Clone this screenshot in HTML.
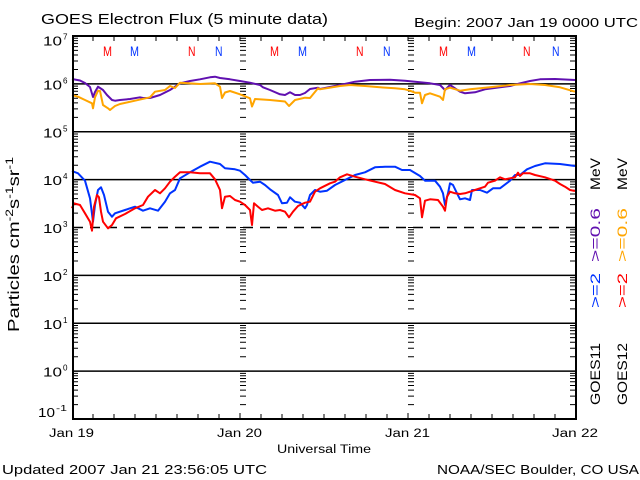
<!DOCTYPE html>
<html><head><meta charset="utf-8"><style>
html,body{margin:0;padding:0;background:#fff;}
svg{display:block;}
text{font-family:"Liberation Sans",sans-serif;fill:#000;}
</style></head><body>
<svg width="640" height="480" viewBox="0 0 640 480" xmlns="http://www.w3.org/2000/svg">
<defs>
<path id="dec" d="M0 0H6M0 2.19H6M0 4.64H6M0 7.42H6M0 10.62H6M0 14.41H6M0 19.05H6M0 25.03H6M0 33.46H6" stroke="#000" stroke-width="1" fill="none"/>
<g id="ax">
<use href="#dec" y="36"/><use href="#dec" y="83.875"/><use href="#dec" y="131.75"/><use href="#dec" y="179.625"/>
<use href="#dec" y="227.5"/><use href="#dec" y="275.375"/><use href="#dec" y="323.25"/><use href="#dec" y="371.125"/>
<path d="M0 419H6" stroke="#000" stroke-width="1"/>
</g>
</defs>
<rect width="640" height="480" fill="#fff"/>

<!-- grid lines -->
<g stroke="#000" stroke-width="1.5" fill="none">
<path d="M72 83.9H576M72 131.75H576M72 179.6H576M72 275.4H576M72 323.25H576M72 371.1H576"/>
<path d="M73 227.5H576" stroke-dasharray="10 7"/>
</g>

<!-- axis ticks -->
<use href="#ax" x="72"/>
<use href="#ax" x="570"/>
<use href="#ax" x="240"/>
<use href="#ax" x="408"/>
<path stroke="#000" stroke-width="1" fill="none" d="M93 36V41M114 36V41M135 36V41M156 36V41M177 36V41M198 36V41M219 36V41M240 36V41M261 36V41M282 36V41M303 36V41M324 36V41M345 36V41M366 36V41M387 36V41M408 36V41M429 36V41M450 36V41M471 36V41M492 36V41M513 36V41M534 36V41M555 36V41
M93 414V419M114 414V419M135 414V419M156 414V419M177 414V419M198 414V419M219 414V419M240 413V419M261 414V419M282 414V419M303 414V419M324 414V419M345 414V419M366 414V419M387 414V419M408 413V419M429 414V419M450 414V419M471 414V419M492 414V419M513 414V419M534 414V419M555 414V419"/>

<!-- data -->
<g fill="none" stroke-width="2" stroke-linejoin="round">
<polyline stroke="#6010B0" points="72,79 80,80.5 85,83 90,87 93,97 95,92 98,86.7 100,88 103,90 107,95 112,100 115,100.7 120,100 130,99 140,97.3 143,98 150,98 160,95 170,90 175,86.7 180,83.3 190,81 200,79.3 210,77.3 215,76.7 220,78 230,79.3 240,81 250,82.7 260,85 263,87.3 270,90 280,94.3 285,95 290,92.3 295,95 300,95 305,93 310,89 318,87.7 320,89 340,85 355,81.7 370,80 390,79.7 405,80.7 420,82.3 430,83.3 440,85 445,90 447,88 450,85 455,88.3 460,91.7 465,93.3 475,92.3 485,89.3 500,87.3 510,86 520,83.3 530,81 540,79.3 555,79 575,80"/>
<polyline stroke="#FFA500" points="72,95 78,96.7 85,100 92,103.3 93,108.3 95,97.3 98,90.7 100,91 103,105 108,108.3 110,110 115,106 120,104 135,100.7 150,97.3 155,91.7 165,90 170,86 175,88 180,82.7 200,84 215,83.3 220,86.7 222,98 225,92.5 230,91 240,94.3 250,98.3 252,106.5 255,99 270,100 285,101.5 289,106 295,100 305,97.7 310,98 318,88.3 320,89.3 340,86 350,85 365,86 380,87.3 395,88.3 405,89.3 410,90.7 415,92.7 420,92.7 422,103.3 425,95 430,93.3 440,96.7 443,100 445,89.3 450,87.7 460,90.7 470,89.3 490,87.3 510,85 530,84 545,85 560,87.3 575,91.7"/>
<polyline stroke="#0033FF" points="72,171 78,173.3 85,180.7 90,198.3 93,221.7 95,205 98,190 101,187.3 104,195 108,211.7 112,216.7 115,213.3 125,210 135,206.7 143,210.7 150,208.3 158,210.7 165,201.7 170,193.3 175,190 180,178.3 190,172.3 200,166.7 210,161.7 220,164 225,168.3 235,169.3 240,170.7 245,175 250,180 253,182.7 260,181.7 265,185 270,189.3 278,195 282,203.3 287,202.7 290,197.3 295,201.7 300,202.7 305,208.3 307,205 310,195 315,190 320,191.7 327,190.7 335,185 345,180 355,175 365,172.3 375,167.3 385,166.7 395,166.7 402,170 410,170 420,176 425,180.7 435,180.7 440,186.7 443,193.3 445,205 448,193.3 450,183.3 453,185 457,193.3 460,199.3 465,198.3 470,200 472,190 480,190 487,192.7 493,188.3 500,188.3 510,180.7 515,175 520,175 527,169.3 535,166 545,163.3 560,164 575,166"/>
<polyline stroke="#FF0000" points="72,208.3 74,203.3 80,205 85,213.3 90,221.7 92,230.7 94,206.7 97,195 99,197.3 101,211.7 103,221.7 108,228.3 112,225 116,218.3 125,214 135,208.3 143,205 148,196.7 155,190 160,193.3 165,188.3 170,181.7 175,176.7 180,172.3 190,172.3 200,173.3 210,173.3 215,179.3 220,190 222,208.3 225,196.7 230,196 235,200 240,201.7 245,205 250,210 252,225 254,203.3 258,206.7 262,210 268,208.3 275,210.7 280,210 285,211.7 289,217.3 293,211.7 298,206 305,202.7 310,201.7 315,191.7 320,188.3 330,183.3 335,181.7 340,177.3 347,174.3 355,176.7 365,179.3 375,181.7 385,184 395,190 405,193.3 415,195 420,198.3 422,217.3 425,200.7 430,199.3 438,200 443,206.7 445,210.7 447,196.7 450,191.7 455,193.3 460,194 465,193.3 470,191.7 475,190 480,188.3 485,186.7 488,182.7 495,180.7 500,177.3 505,179.3 510,178.3 515,177.3 518,172.7 520,176 523,173.3 530,173.3 535,175 545,177.3 555,180.7 560,184 565,186.7 570,190 575,191"/>
</g>

<!-- frame -->
<rect x="73" y="36" width="503" height="383" fill="none" stroke="#000" stroke-width="2"/>

<!-- M / N markers -->
<g font-size="13.5">
<text x="103" y="56" fill="#FF0000" style="fill:#FF0000" textLength="9" lengthAdjust="spacingAndGlyphs">M</text>
<text x="130" y="56" style="fill:#0033FF" textLength="9" lengthAdjust="spacingAndGlyphs">M</text>
<text x="188" y="56" style="fill:#FF0000" textLength="7.5" lengthAdjust="spacingAndGlyphs">N</text>
<text x="215" y="56" style="fill:#0033FF" textLength="7.5" lengthAdjust="spacingAndGlyphs">N</text>
<text x="270" y="56" style="fill:#FF0000" textLength="9" lengthAdjust="spacingAndGlyphs">M</text>
<text x="298" y="56" style="fill:#0033FF" textLength="9" lengthAdjust="spacingAndGlyphs">M</text>
<text x="356" y="56" style="fill:#FF0000" textLength="7.5" lengthAdjust="spacingAndGlyphs">N</text>
<text x="383" y="56" style="fill:#0033FF" textLength="7.5" lengthAdjust="spacingAndGlyphs">N</text>
<text x="439" y="56" style="fill:#FF0000" textLength="9" lengthAdjust="spacingAndGlyphs">M</text>
<text x="467" y="56" style="fill:#0033FF" textLength="9" lengthAdjust="spacingAndGlyphs">M</text>
<text x="523" y="56" style="fill:#FF0000" textLength="7.5" lengthAdjust="spacingAndGlyphs">N</text>
<text x="552" y="56" style="fill:#0033FF" textLength="7.5" lengthAdjust="spacingAndGlyphs">N</text>
</g>

<!-- titles -->
<text x="41" y="24" font-size="15" textLength="287" lengthAdjust="spacingAndGlyphs">GOES Electron Flux (5 minute data)</text>
<text x="414" y="27" font-size="12.5" textLength="224" lengthAdjust="spacingAndGlyphs">Begin: 2007 Jan 19 0000 UTC</text>

<!-- y labels -->
<g font-size="12.5">
<text x="43" y="45.5" textLength="19" lengthAdjust="spacingAndGlyphs">10</text>
<text x="43" y="89.4" textLength="19" lengthAdjust="spacingAndGlyphs">10</text>
<text x="43" y="137.25" textLength="19" lengthAdjust="spacingAndGlyphs">10</text>
<text x="43" y="185.1" textLength="19" lengthAdjust="spacingAndGlyphs">10</text>
<text x="43" y="233" textLength="19" lengthAdjust="spacingAndGlyphs">10</text>
<text x="43" y="280.9" textLength="19" lengthAdjust="spacingAndGlyphs">10</text>
<text x="43" y="328.75" textLength="19" lengthAdjust="spacingAndGlyphs">10</text>
<text x="43" y="376.6" textLength="19" lengthAdjust="spacingAndGlyphs">10</text>
<text x="38" y="417" textLength="17" lengthAdjust="spacingAndGlyphs">10</text>
</g>
<g font-size="8.5">
<text x="63" y="39.5" textLength="4.5" lengthAdjust="spacingAndGlyphs">7</text>
<text x="63" y="83.4" textLength="4.5" lengthAdjust="spacingAndGlyphs">6</text>
<text x="63" y="131.25" textLength="4.5" lengthAdjust="spacingAndGlyphs">5</text>
<text x="63" y="179.1" textLength="4.5" lengthAdjust="spacingAndGlyphs">4</text>
<text x="63" y="227" textLength="4.5" lengthAdjust="spacingAndGlyphs">3</text>
<text x="63" y="274.9" textLength="4.5" lengthAdjust="spacingAndGlyphs">2</text>
<text x="63" y="322.75" textLength="4.5" lengthAdjust="spacingAndGlyphs">1</text>
<text x="63" y="370.6" textLength="4.5" lengthAdjust="spacingAndGlyphs">0</text>
<text x="56" y="411" textLength="11" lengthAdjust="spacingAndGlyphs">-1</text>
</g>

<!-- y axis title -->
<text transform="translate(19,332) rotate(-90)" font-size="16" textLength="175" lengthAdjust="spacingAndGlyphs">Particles cm<tspan dy="-6" font-size="11">-2</tspan><tspan dy="6">s</tspan><tspan dy="-6" font-size="11">-1</tspan><tspan dy="6">sr</tspan><tspan dy="-6" font-size="11">-1</tspan></text>

<!-- x labels -->
<g font-size="11.5">
<text x="49" y="437" textLength="45" lengthAdjust="spacingAndGlyphs">Jan 19</text>
<text x="217" y="437" textLength="45" lengthAdjust="spacingAndGlyphs">Jan 20</text>
<text x="385" y="437" textLength="45" lengthAdjust="spacingAndGlyphs">Jan 21</text>
<text x="552" y="437" textLength="46" lengthAdjust="spacingAndGlyphs">Jan 22</text>
<text x="277" y="453" textLength="94" lengthAdjust="spacingAndGlyphs">Universal Time</text>
</g>
<g font-size="12.5">
<text x="2" y="474" textLength="265" lengthAdjust="spacingAndGlyphs">Updated 2007 Jan 21 23:56:05 UTC</text>
<text x="437" y="474" textLength="202" lengthAdjust="spacingAndGlyphs">NOAA/SEC Boulder, CO USA</text>
</g>

<!-- right legend -->
<g font-size="14">
<text transform="translate(600,405) rotate(-90)" textLength="62" lengthAdjust="spacingAndGlyphs">GOES11</text>
<text transform="translate(600,308) rotate(-90)" style="fill:#0033FF" textLength="35" lengthAdjust="spacingAndGlyphs">&gt;=2</text>
<text transform="translate(600,262) rotate(-90)" style="fill:#6010B0" textLength="54" lengthAdjust="spacingAndGlyphs">&gt;=0.6</text>
<text transform="translate(600,190) rotate(-90)" textLength="32" lengthAdjust="spacingAndGlyphs">MeV</text>
<text transform="translate(627,405) rotate(-90)" textLength="62" lengthAdjust="spacingAndGlyphs">GOES12</text>
<text transform="translate(627,308) rotate(-90)" style="fill:#FF0000" textLength="35" lengthAdjust="spacingAndGlyphs">&gt;=2</text>
<text transform="translate(627,262) rotate(-90)" style="fill:#FFA500" textLength="54" lengthAdjust="spacingAndGlyphs">&gt;=0.6</text>
<text transform="translate(627,190) rotate(-90)" textLength="32" lengthAdjust="spacingAndGlyphs">MeV</text>
</g>
</svg>
</body></html>
